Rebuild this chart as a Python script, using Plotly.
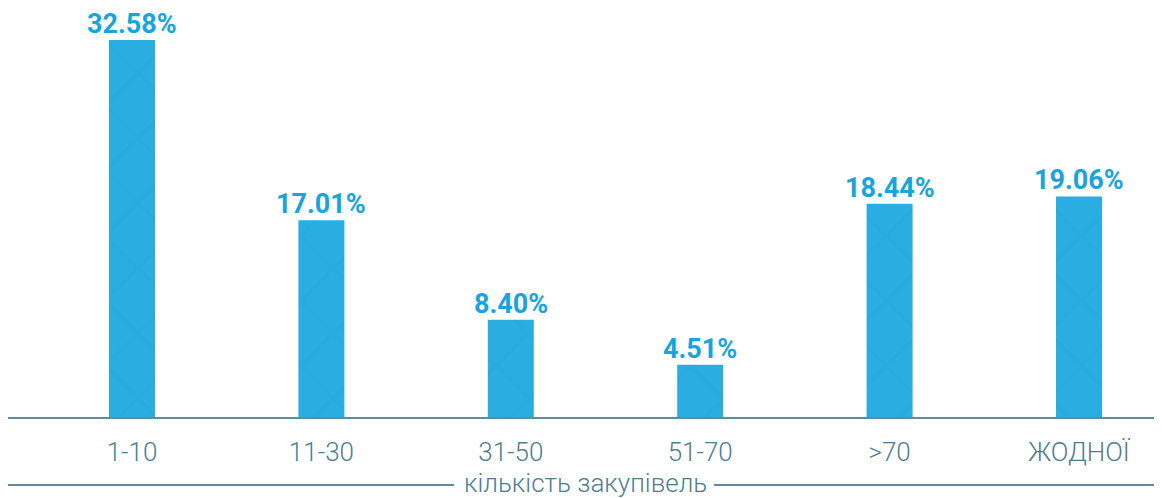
import plotly.graph_objects as go

categories = ["1-10", "11-30", "31-50", "51-70", ">70", "ЖОДНОЇ"]
values = [32.58, 17.01, 8.40, 4.51, 18.44, 19.06]
labels = ["32.58%", "17.01%", "8.40%", "4.51%", "18.44%", "19.06%"]
axis_title = "кількість закупівель"

# page body adds an 8px offset; size the figure to fit the window
OFF = 8
W, H = 1162 - OFF, 498 - OFF
ml, mr, mt = 0, 0, 0
base = 417 - OFF
mb = H - base
plot_h = base - mt
plot_w = W - ml - mr
step = 189.4

fig = go.Figure(go.Bar(
    x=categories, y=values,
    marker=dict(color="#2AAEE2", line=dict(width=0),
                pattern=dict(shape="x", size=46, solidity=0.2,
                             fgcolor="#1F9DD3", fgopacity=0.22)),
    width=46 / step,
))

for c, v, t in zip(categories, values, labels):
    fig.add_annotation(x=c, y=v, text=t, showarrow=False,
                       xanchor="center", yanchor="bottom", yshift=-2,
                       font=dict(family="Roboto", size=27, color="#1BA3DD", weight="bold"))

r0 = -(132 - OFF - ml) / step
fig.update_layout(
    width=W, height=H,
    margin=dict(l=ml, r=mr, t=mt, b=mb, pad=0),
    plot_bgcolor="white", paper_bgcolor="white",
    showlegend=False,
    xaxis=dict(range=[r0, r0 + plot_w / step], showgrid=False, showline=True,
               linecolor="#5F8C9C", linewidth=2, ticks="",
               tickfont=dict(family="Roboto", size=26, color="#4F7D8E", weight=300),
               ticklabelstandoff=11),
    yaxis=dict(range=[0, plot_h / 11.57], visible=False),
    font=dict(family="Roboto"),
)

fig.add_annotation(text=axis_title, xref="paper", yref="paper",
                   x=(585 - OFF - ml) / plot_w, y=(base - (483 - OFF)) / plot_h,
                   showarrow=False,
                   font=dict(family="Roboto", size=26, color="#4F7D8E", weight=300),
                   xanchor="center", yanchor="middle")
yl = (base - (485 - OFF)) / plot_h
for x0, x1 in [(8, 454), (714, 1162)]:
    fig.add_shape(type="line", xref="paper", yref="paper",
                  x0=(x0 - OFF - ml) / plot_w, x1=(x1 - OFF - ml) / plot_w,
                  y0=yl, y1=yl, line=dict(color="#5F8C9C", width=2))

fig.write_html("out.html")
